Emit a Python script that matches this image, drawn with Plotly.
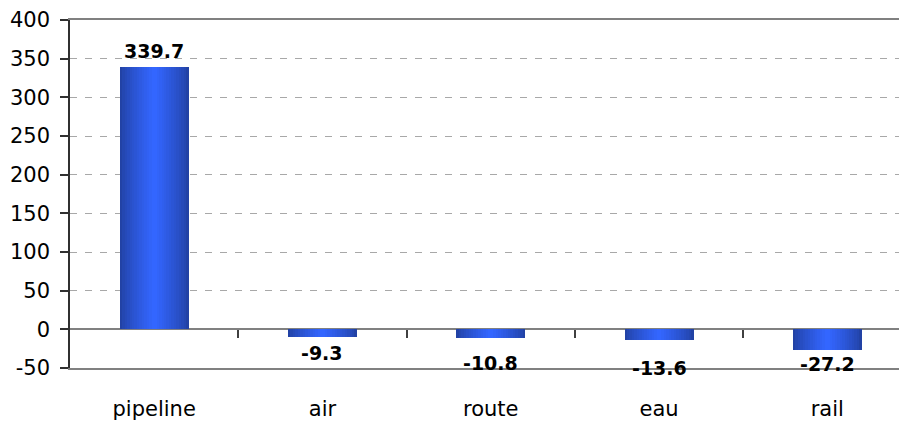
import plotly.graph_objects as go

# Change by transport mode
categories = ["pipeline", "air", "route", "eau", "rail"]
values = [339.7, -9.3, -10.8, -13.6, -27.2]
value_labels = ["339.7", "-9.3", "-10.8", "-13.6", "-27.2"]
y_ticks = [-50, 0, 50, 100, 150, 200, 250, 300, 350, 400]

# label nudges in pixels (style only)
label_nudge = [3, -3, -12, -15, -1]

FONT = "DejaVu Sans"
BAR_WIDTH = 0.41
X_RANGE = [-0.5, 4.426]
Y_RANGE = [-50, 400]

fig = go.Figure()

# Cylinder-like shading: stacked overlaid bars, narrowing toward the bright core
edge = (34, 66, 165)
core = (51, 102, 255)
n_layers = 14
for k in range(n_layers):
    t = k / (n_layers - 1)
    tt = t ** 0.8
    col = tuple(round(edge[i] + (core[i] - edge[i]) * tt) for i in range(3))
    w = BAR_WIDTH * (1 - k / n_layers)
    fig.add_trace(go.Bar(
        x=list(range(len(categories))),
        y=values,
        width=w,
        marker=dict(color="rgb(%d,%d,%d)" % col, line=dict(width=0)),
        hoverinfo="skip",
        showlegend=False,
    ))

# carrier for the category tick marks on the zero line
fig.add_trace(go.Scatter(x=[], y=[], xaxis="x2", showlegend=False))

for i, (v, txt) in enumerate(zip(values, value_labels)):
    fig.add_annotation(
        x=i, y=v, text="<b>%s</b>" % txt, showarrow=False,
        yanchor="bottom" if v >= 0 else "top",
        yshift=label_nudge[i],
        font=dict(family=FONT, size=19, color="#000000"),
    )

fig.update_layout(
    width=899, height=421,
    margin=dict(l=70, r=0, t=20, b=50),
    paper_bgcolor="white", plot_bgcolor="white",
    barmode="overlay",
    bargap=0,
    font=dict(family=FONT, size=21, color="#000000"),
    xaxis=dict(
        range=X_RANGE,
        tickmode="array",
        tickvals=list(range(len(categories))),
        ticktext=categories,
        ticks="",
        showgrid=False,
        zeroline=False,
        showline=True, linecolor="#808080", linewidth=2,
        mirror=True,
        ticklabelstandoff=21,
        tickfont=dict(family=FONT, size=21),
    ),
    xaxis2=dict(
        overlaying="x",
        anchor="free",
        position=(0 - Y_RANGE[0]) / (Y_RANGE[1] - Y_RANGE[0]),
        side="bottom",
        range=X_RANGE,
        tickmode="array",
        tickvals=[i + 0.5 for i in range(len(categories) - 1)],
        ticks="outside", ticklen=8, tickwidth=1.5, tickcolor="#404040",
        showticklabels=False,
        showgrid=False, zeroline=False, showline=False,
    ),
    yaxis=dict(
        range=Y_RANGE,
        domain=[0, 1],
        tickmode="array",
        tickvals=y_ticks,
        ticktext=[str(t) for t in y_ticks],
        ticks="outside", ticklen=8, tickwidth=1.5, tickcolor="#303030",
        showline=True, linecolor="#303030", linewidth=1.5,
        showgrid=True, gridcolor="#A8A8A8", gridwidth=1, griddash="7px,8px",
        zeroline=True, zerolinecolor="#808080", zerolinewidth=2,
        ticklabelstandoff=6,
        tickfont=dict(family=FONT, size=21),
    ),
)

fig.write_html("out.html")
